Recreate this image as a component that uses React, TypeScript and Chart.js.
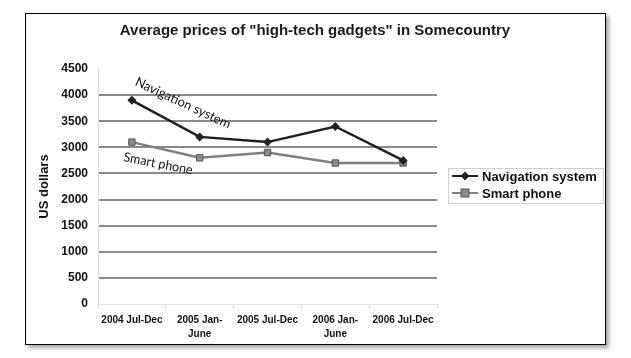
import React, { useEffect, useRef } from 'react';
import { Chart, registerables } from 'chart.js';

Chart.register(...registerables);

const TITLE = 'Average prices of "high-tech gadgets" in Somecountry';
const CATEGORIES: string[][] = [
  ['2004 Jul-Dec'],
  ['2005 Jan-', 'June'],
  ['2005 Jul-Dec'],
  ['2006 Jan-', 'June'],
  ['2006 Jul-Dec'],
];
const NAVIGATION = [3900, 3200, 3100, 3400, 2750];
const SMART_PHONE = [3100, 2800, 2900, 2700, 2700];
const SERIES_NAMES = ['Navigation system', 'Smart phone'];
const Y_TITLE = 'US dollars';
const Y_MIN = 0;
const Y_MAX = 4500;
const Y_STEP = 500;

// hand-written labels on the plot (anchored to a category and a value)
const NOTES = [
  { text: 'Navigation system', index: 0, value: 4270, dx: 4, angle: 25, width: 104 },
  { text: 'Smart phone', index: 0, value: 2815, dx: -8, angle: 11, width: 70 },
];

const FONT = '"Liberation Sans", Arial, sans-serif';
const NAV_COLOR = '#1e1e1e';
const SP_COLOR = '#7f7f7f';

function drawMarker(ctx: CanvasRenderingContext2D, kind: string, x: number, y: number) {
  ctx.save();
  if (kind === 'diamond') {
    ctx.fillStyle = '#222';
    ctx.beginPath();
    ctx.moveTo(x, y - 4.5);
    ctx.lineTo(x + 4.5, y);
    ctx.lineTo(x, y + 4.5);
    ctx.lineTo(x - 4.5, y);
    ctx.closePath();
    ctx.fill();
  } else {
    ctx.fillStyle = '#8c8c8c';
    ctx.strokeStyle = '#555';
    ctx.lineWidth = 1;
    ctx.fillRect(x - 4, y - 4, 8, 8);
    ctx.strokeRect(x - 4, y - 4, 8, 8);
  }
  ctx.restore();
}

const decorPlugin = {
  id: 'decor',
  afterDraw(chart: any) {
    const ctx: CanvasRenderingContext2D = chart.ctx;
    const area = chart.chartArea;
    const xs = chart.scales.x;
    const ys = chart.scales.y;
    ctx.save();
    // title
    ctx.fillStyle = '#1a1a1a';
    ctx.font = `bold 15px ${FONT}`;
    ctx.textAlign = 'center';
    ctx.textBaseline = 'middle';
    ctx.fillText(TITLE, 315, 31);

    // legend
    const lx = area.right + 11;
    const ly = 168;
    ctx.strokeStyle = '#d0d0d0';
    ctx.lineWidth = 1;
    ctx.strokeRect(lx + 0.5, ly + 0.5, 155, 35);
    ctx.font = `bold 13px ${FONT}`;
    ctx.textAlign = 'left';
    chart.data.datasets.forEach((ds: any, i: number) => {
      const cy = ly + 8 + i * 17;
      ctx.strokeStyle = ds.borderColor;
      ctx.lineWidth = 2;
      ctx.beginPath();
      ctx.moveTo(lx + 4, cy);
      ctx.lineTo(lx + 30, cy);
      ctx.stroke();
      drawMarker(ctx, i === 0 ? 'diamond' : 'square', lx + 17, cy);
      ctx.fillStyle = '#111';
      ctx.fillText(ds.label, lx + 34, cy + 1);
    });

    // notes
    NOTES.forEach((n) => {
      const x = xs.getPixelForValue(n.index) + n.dx;
      const y = ys.getPixelForValue(n.value);
      ctx.save();
      ctx.translate(x, y);
      ctx.rotate((n.angle * Math.PI) / 180);
      ctx.font = `13px Lato, "Open Sans", sans-serif`;
      const w = ctx.measureText(n.text).width;
      ctx.scale(n.width / w, 1);
      ctx.fillStyle = '#111';
      ctx.textAlign = 'left';
      ctx.textBaseline = 'middle';
      ctx.fillText(n.text, 0, 0);
      ctx.restore();
    });
    ctx.restore();
  },
};

export default function App() {
  const ref = useRef<HTMLCanvasElement | null>(null);
  useEffect(() => {
    if (!ref.current) return;
    Chart.defaults.font.family = FONT;
    const chart = new Chart(ref.current, {
      type: 'line',
      data: {
        labels: CATEGORIES as any,
        datasets: [
          {
            label: SERIES_NAMES[0],
            data: NAVIGATION,
            borderColor: NAV_COLOR,
            backgroundColor: '#222',
            borderWidth: 2.5,
            pointStyle: 'rectRot',
            pointRadius: 4.5,
            pointBorderWidth: 0,
            tension: 0,
          },
          {
            label: SERIES_NAMES[1],
            data: SMART_PHONE,
            borderColor: SP_COLOR,
            backgroundColor: '#8c8c8c',
            pointBorderColor: '#555',
            borderWidth: 2.5,
            pointStyle: 'rect',
            pointRadius: 4.5,
            pointBorderWidth: 1,
            tension: 0,
          },
        ],
      },
      options: {
        animation: false,
        responsive: false,
        devicePixelRatio: 1,
        layout: { padding: { left: 25, right: 194, top: 69, bottom: 0 } },
        plugins: {
          legend: { display: false },
          title: { display: false },
          tooltip: { enabled: false },
        },
        scales: {
          x: {
            type: 'category',
            offset: true,
            afterFit: (s: any) => { s.height = 54; },
            grid: {
              offset: true,
              drawOnChartArea: false,
              drawTicks: true,
              tickLength: 4,
              tickColor: '#d8d8d8',
            },
            border: { display: true, color: '#e2e2e2', width: 1 },
            ticks: {
              color: '#111',
              font: { size: 10, weight: 'bold', lineHeight: 1.4 },
              padding: 5,
              maxRotation: 0,
              autoSkip: false,
            },
          },
          y: {
            min: Y_MIN,
            max: Y_MAX,
            afterFit: (s: any) => { s.width = 73; },
            grid: {
              drawTicks: false,
              color: (c: any) =>
                c.tick && c.tick.value === Y_MAX ? 'rgba(0,0,0,0)' : c.tick && c.tick.value === 0 ? '#e2e2e2' : '#8a8a8a',
              lineWidth: (c: any) => (c.tick && c.tick.value === 0 ? 1 : 2),
            },
            border: { display: true, color: '#dcdcdc', width: 1 },
            ticks: {
              stepSize: Y_STEP,
              color: '#111',
              font: { size: 12, weight: 'bold' },
              padding: 10,
              callback: (v: any) => String(v),
            },
            title: {
              display: true,
              text: Y_TITLE,
              color: '#111',
              font: { size: 13, weight: 'bold' },
              padding: { top: 12, bottom: 0 },
            },
          },
        },
      },
      plugins: [decorPlugin],
    });
    return () => chart.destroy();
  }, []);

  return (
    <div style={{ position: 'fixed', left: 0, top: 0, width: 631, height: 358, background: '#fff' }}>
      <div
        style={{
          position: 'absolute',
          left: 25,
          top: 13,
          width: 579,
          height: 330,
          border: '1px solid #000',
          boxShadow: '3px 3px 4px rgba(0,0,0,0.35)',
          background: '#fff',
        }}
      />
      <canvas ref={ref} width={631} height={358} style={{ position: 'absolute', left: 0, top: 0 }} />
    </div>
  );
}
